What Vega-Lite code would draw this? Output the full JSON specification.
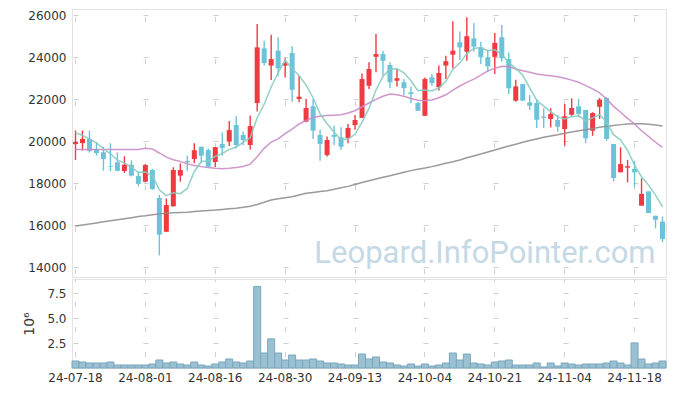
{
  "$schema": "https://vega.github.io/schema/vega-lite/v6.json",
  "padding": {"left": 22, "top": 8, "right": 10, "bottom": 5},
  "spacing": 0,
  "background": "white",
  "config": {
    "view": {"stroke": "#e3e3e3"},
    "font": "DejaVu Sans",
    "axis": {"labelFont": "DejaVu Sans", "labelFontSize": 12, "labelColor": "#333333", "ticks": false, "tickSize": 0, "domain": false, "gridColor": "#cfcfcf", "gridWidth": 1, "titleFont": "DejaVu Sans", "titleColor": "#333333"}
  },
  "datasets": {
    "k": [
      {"d":"24-07-18","o":19850,"h":20500,"l":19100,"c":19950,"v":700000,"m5":20400,"m20":19590,"m120":15950},
      {"d":"24-07-19","o":19900,"h":20500,"l":19550,"c":20100,"v":600000,"m5":20260,"m20":19590,"m120":16000},
      {"d":"24-07-22","o":20100,"h":20500,"l":19450,"c":19520,"v":500000,"m5":20100,"m20":19590,"m120":16050},
      {"d":"24-07-23","o":19620,"h":19940,"l":19300,"c":19430,"v":500000,"m5":19910,"m20":19590,"m120":16100},
      {"d":"24-07-24","o":19460,"h":19730,"l":18590,"c":19140,"v":500000,"m5":19630,"m20":19590,"m120":16150},
      {"d":"24-07-25","o":18810,"h":19890,"l":18560,"c":18780,"v":600000,"m5":19390,"m20":19590,"m120":16200},
      {"d":"24-07-26","o":18990,"h":19460,"l":18560,"c":18580,"v":300000,"m5":19090,"m20":19590,"m120":16250},
      {"d":"24-07-29","o":18570,"h":19270,"l":18480,"c":18870,"v":300000,"m5":18960,"m20":19590,"m120":16300},
      {"d":"24-07-30","o":18870,"h":19080,"l":18310,"c":18350,"v":300000,"m5":18740,"m20":19590,"m120":16350},
      {"d":"24-07-31","o":18330,"h":18540,"l":17840,"c":17960,"v":300000,"m5":18510,"m20":19600,"m120":16400},
      {"d":"24-08-01","o":18060,"h":18900,"l":18030,"c":18860,"v":300000,"m5":18520,"m20":19650,"m120":16440},
      {"d":"24-08-02","o":18620,"h":18670,"l":17680,"c":17710,"v":400000,"m5":18350,"m20":19620,"m120":16490},
      {"d":"24-08-05","o":17290,"h":17440,"l":14550,"c":15540,"v":800000,"m5":17680,"m20":19430,"m120":16530},
      {"d":"24-08-06","o":15680,"h":17260,"l":15660,"c":16950,"v":500000,"m5":17400,"m20":19230,"m120":16560},
      {"d":"24-08-07","o":16890,"h":18750,"l":16880,"c":18620,"v":600000,"m5":17540,"m20":19110,"m120":16580},
      {"d":"24-08-08","o":18350,"h":18940,"l":18060,"c":18620,"v":400000,"m5":17490,"m20":19030,"m120":16600},
      {"d":"24-08-09","o":19050,"h":19300,"l":18580,"c":18980,"v":300000,"m5":17740,"m20":18910,"m120":16610},
      {"d":"24-08-12","o":19140,"h":19890,"l":18940,"c":19560,"v":600000,"m5":18550,"m20":18830,"m120":16640},
      {"d":"24-08-13","o":19730,"h":19730,"l":18940,"c":19300,"v":300000,"m5":19020,"m20":18780,"m120":16670},
      {"d":"24-08-14","o":19570,"h":19640,"l":18740,"c":18780,"v":200000,"m5":19050,"m20":18740,"m120":16690},
      {"d":"24-08-16","o":19000,"h":19720,"l":18760,"c":19710,"v":400000,"m5":19270,"m20":18700,"m120":16710},
      {"d":"24-08-19","o":19860,"h":20410,"l":19300,"c":19670,"v":600000,"m5":19400,"m20":18680,"m120":16740},
      {"d":"24-08-20","o":19970,"h":20950,"l":19760,"c":20520,"v":900000,"m5":19600,"m20":18700,"m120":16770},
      {"d":"24-08-21","o":20760,"h":21180,"l":19650,"c":19810,"v":600000,"m5":19700,"m20":18740,"m120":16800},
      {"d":"24-08-22","o":20290,"h":20450,"l":19800,"c":20050,"v":500000,"m5":19950,"m20":18790,"m120":16840},
      {"d":"24-08-23","o":19810,"h":21220,"l":19600,"c":20710,"v":700000,"m5":20150,"m20":18900,"m120":16890},
      {"d":"24-08-26","o":21810,"h":25570,"l":21400,"c":24460,"v":8160000,"m5":21110,"m20":19250,"m120":16980},
      {"d":"24-08-27","o":24410,"h":24780,"l":23590,"c":23710,"v":1500000,"m5":21750,"m20":19650,"m120":17080},
      {"d":"24-08-28","o":23590,"h":25060,"l":22900,"c":23900,"v":2910000,"m5":22570,"m20":19950,"m120":17190},
      {"d":"24-08-29","o":24300,"h":24940,"l":23080,"c":23460,"v":1500000,"m5":23250,"m20":20100,"m120":17250},
      {"d":"24-08-30","o":23590,"h":23940,"l":23030,"c":23700,"v":800000,"m5":23850,"m20":20350,"m120":17300},
      {"d":"24-09-02","o":24190,"h":24510,"l":21870,"c":22440,"v":1300000,"m5":23440,"m20":20570,"m120":17350},
      {"d":"24-09-03","o":22000,"h":23110,"l":21840,"c":22110,"v":800000,"m5":23120,"m20":20810,"m120":17430},
      {"d":"24-09-04","o":20920,"h":22000,"l":20890,"c":21570,"v":800000,"m5":22660,"m20":20970,"m120":17510},
      {"d":"24-09-05","o":21650,"h":22000,"l":20100,"c":20490,"v":900000,"m5":22060,"m20":21130,"m120":17550},
      {"d":"24-09-06","o":20290,"h":20540,"l":19060,"c":19860,"v":700000,"m5":21290,"m20":21180,"m120":17590},
      {"d":"24-09-09","o":19330,"h":20220,"l":19260,"c":20050,"v":500000,"m5":20820,"m20":21210,"m120":17630},
      {"d":"24-09-10","o":20290,"h":20730,"l":19810,"c":20200,"v":500000,"m5":20430,"m20":21230,"m120":17700},
      {"d":"24-09-11","o":20180,"h":20650,"l":19570,"c":19730,"v":400000,"m5":20070,"m20":21250,"m120":17770},
      {"d":"24-09-12","o":20140,"h":20810,"l":19890,"c":20620,"v":300000,"m5":20090,"m20":21330,"m120":17840},
      {"d":"24-09-13","o":20760,"h":21240,"l":20540,"c":21000,"v":300000,"m5":20320,"m20":21440,"m120":17930},
      {"d":"24-09-19","o":21100,"h":23220,"l":21090,"c":22950,"v":1400000,"m5":20900,"m20":21630,"m120":18020},
      {"d":"24-09-20","o":22630,"h":23750,"l":22480,"c":23430,"v":900000,"m5":21550,"m20":21810,"m120":18110},
      {"d":"24-09-23","o":24010,"h":25100,"l":23270,"c":24140,"v":1100000,"m5":22430,"m20":21980,"m120":18190},
      {"d":"24-09-24","o":24140,"h":24300,"l":23110,"c":23820,"v":600000,"m5":23070,"m20":22130,"m120":18270},
      {"d":"24-09-25","o":23620,"h":23750,"l":22510,"c":22800,"v":500000,"m5":23430,"m20":22240,"m120":18350},
      {"d":"24-09-26","o":22870,"h":23430,"l":22600,"c":22990,"v":300000,"m5":23440,"m20":22200,"m120":18430},
      {"d":"24-09-27","o":22800,"h":22950,"l":22190,"c":22520,"v":200000,"m5":23250,"m20":22130,"m120":18510},
      {"d":"24-09-30","o":22320,"h":22600,"l":21800,"c":22240,"v":400000,"m5":22870,"m20":22020,"m120":18590},
      {"d":"24-10-02","o":21810,"h":21860,"l":21440,"c":21440,"v":200000,"m5":22400,"m20":21940,"m120":18650},
      {"d":"24-10-04","o":21200,"h":23030,"l":21200,"c":22950,"v":400000,"m5":22430,"m20":21920,"m120":18710},
      {"d":"24-10-07","o":23030,"h":23190,"l":22630,"c":22760,"v":200000,"m5":22380,"m20":21950,"m120":18780},
      {"d":"24-10-08","o":22560,"h":23590,"l":22400,"c":23240,"v":300000,"m5":22530,"m20":22060,"m120":18860},
      {"d":"24-10-10","o":23590,"h":24060,"l":22950,"c":23800,"v":500000,"m5":22840,"m20":22200,"m120":18940},
      {"d":"24-10-11","o":24110,"h":25700,"l":23460,"c":24300,"v":1500000,"m5":23410,"m20":22420,"m120":19010},
      {"d":"24-10-14","o":24700,"h":25220,"l":23860,"c":24460,"v":800000,"m5":23710,"m20":22620,"m120":19100},
      {"d":"24-10-15","o":24250,"h":25890,"l":23820,"c":24990,"v":1400000,"m5":24160,"m20":22790,"m120":19200},
      {"d":"24-10-16","o":24890,"h":25620,"l":24250,"c":24490,"v":500000,"m5":24410,"m20":22950,"m120":19290},
      {"d":"24-10-17","o":24460,"h":24730,"l":23670,"c":23990,"v":400000,"m5":24450,"m20":23140,"m120":19380},
      {"d":"24-10-18","o":23990,"h":24350,"l":23270,"c":23560,"v":300000,"m5":24300,"m20":23340,"m120":19480},
      {"d":"24-10-21","o":24010,"h":25140,"l":23190,"c":24670,"v":600000,"m5":24340,"m20":23460,"m120":19570},
      {"d":"24-10-22","o":24940,"h":25520,"l":23780,"c":23940,"v":700000,"m5":24130,"m20":23560,"m120":19670},
      {"d":"24-10-23","o":23900,"h":24220,"l":22240,"c":22510,"v":800000,"m5":23730,"m20":23550,"m120":19760},
      {"d":"24-10-24","o":21920,"h":22920,"l":21870,"c":22600,"v":300000,"m5":23460,"m20":23430,"m120":19850},
      {"d":"24-10-25","o":22710,"h":22710,"l":21920,"c":21920,"v":300000,"m5":23130,"m20":23350,"m120":19940},
      {"d":"24-10-28","o":21840,"h":22190,"l":21480,"c":21680,"v":300000,"m5":22530,"m20":23270,"m120":20020},
      {"d":"24-10-29","o":21810,"h":22000,"l":20620,"c":21010,"v":500000,"m5":21940,"m20":23190,"m120":20100},
      {"d":"24-10-30","o":21160,"h":21560,"l":20620,"c":21100,"v":100000,"m5":21660,"m20":23140,"m120":20180},
      {"d":"24-10-31","o":21050,"h":21560,"l":20650,"c":21290,"v":500000,"m5":21400,"m20":23110,"m120":20240},
      {"d":"24-11-01","o":21000,"h":21240,"l":20440,"c":20680,"v":200000,"m5":21150,"m20":23060,"m120":20300},
      {"d":"24-11-04","o":20570,"h":21760,"l":19780,"c":21180,"v":500000,"m5":21050,"m20":22990,"m120":20370},
      {"d":"24-11-05","o":21250,"h":22030,"l":21200,"c":21570,"v":400000,"m5":21160,"m20":22900,"m120":20430},
      {"d":"24-11-06","o":21650,"h":22000,"l":21130,"c":21290,"v":300000,"m5":21200,"m20":22800,"m120":20490},
      {"d":"24-11-07","o":21480,"h":21480,"l":19900,"c":20130,"v":400000,"m5":20970,"m20":22640,"m120":20540},
      {"d":"24-11-08","o":20490,"h":21370,"l":20250,"c":21330,"v":400000,"m5":21100,"m20":22480,"m120":20590},
      {"d":"24-11-11","o":21630,"h":22050,"l":21050,"c":21970,"v":400000,"m5":21260,"m20":22290,"m120":20650},
      {"d":"24-11-12","o":22050,"h":22080,"l":20010,"c":20100,"v":500000,"m5":20900,"m20":22000,"m120":20700},
      {"d":"24-11-13","o":19860,"h":19860,"l":18080,"c":18240,"v":700000,"m5":20300,"m20":21650,"m120":20740},
      {"d":"24-11-14","o":18510,"h":19700,"l":18510,"c":18900,"v":500000,"m5":20050,"m20":21370,"m120":20780},
      {"d":"24-11-15","o":18730,"h":19100,"l":18030,"c":18800,"v":300000,"m5":19550,"m20":21080,"m120":20810},
      {"d":"24-11-18","o":18670,"h":19060,"l":17800,"c":18510,"v":2510000,"m5":18850,"m20":20810,"m120":20820},
      {"d":"24-11-19","o":16920,"h":18220,"l":16920,"c":17480,"v":900000,"m5":18300,"m20":20490,"m120":20825},
      {"d":"24-11-20","o":17600,"h":17600,"l":16570,"c":16570,"v":400000,"m5":17900,"m20":20220,"m120":20800},
      {"d":"24-11-21","o":16440,"h":16440,"l":15840,"c":16250,"v":500000,"m5":17420,"m20":19940,"m120":20760},
      {"d":"24-11-22","o":16160,"h":16400,"l":15180,"c":15330,"v":700000,"m5":16870,"m20":19700,"m120":20710}
    ]
  },
  "vconcat": [
    {
      "width": 594,
      "height": 268,
      "data": {"name": "k"},
      "encoding": {
        "x": {
          "field": "d", "type": "ordinal", "sort": null,
          "scale": {"paddingInner": 0, "paddingOuter": 0},
          "axis": {"labels": false, "title": null, "grid": true, "gridDash": [5, 37], "gridDashOffset": 34.5,
            "values": ["24-07-18","24-08-01","24-08-16","24-08-30","24-09-13","24-10-04","24-10-21","24-11-04","24-11-18"]}
        }
      },
      "layer": [
        {
          "mark": {"type": "text", "font": "Roboto", "fontSize": 31, "align": "right", "baseline": "alphabetic", "dx": -7, "color": "#c5d9e5"},
          "encoding": {
            "text": {"condition": {"test": "datum.d == '24-11-22'", "value": "Leopard.InfoPointer.com"}, "value": ""},
            "y": {"datum": 14190, "type": "quantitative", "scale": {"domain": [13524, 26286], "nice": false, "zero": false},
              "axis": {"title": null, "values": [14000,16000,18000,20000,22000,24000,26000], "format": "d", "labelPadding": 6, "grid": true, "gridDash": [5, 65], "gridDashOffset": 69}}
          }
        },
        {
          "mark": {"type": "rule", "strokeWidth": 1.4},
          "encoding": {
            "y": {"field": "l", "type": "quantitative"},
            "y2": {"field": "h"},
            "color": {"condition": {"test": "datum.c >= datum.o", "value": "#ee3a40"}, "value": "#6cc2d9"}
          }
        },
        {
          "mark": {"type": "bar", "width": 5},
          "encoding": {
            "y": {"field": "o", "type": "quantitative"},
            "y2": {"field": "c"},
            "color": {"condition": {"test": "datum.c >= datum.o", "value": "#ee3a40"}, "value": "#6cc2d9"}
          }
        },
        {
          "mark": {"type": "line", "color": "#8f8f8f", "strokeWidth": 1.5, "opacity": 0.9},
          "encoding": {"y": {"field": "m120", "type": "quantitative"}}
        },
        {
          "mark": {"type": "line", "color": "#c98bc6", "strokeWidth": 1.5, "opacity": 0.9},
          "encoding": {"y": {"field": "m20", "type": "quantitative"}}
        },
        {
          "mark": {"type": "line", "color": "#86cbc1", "strokeWidth": 1.5, "opacity": 0.9},
          "encoding": {"y": {"field": "m5", "type": "quantitative"}}
        }
      ]
    },
    {
      "width": 594,
      "height": 89,
      "data": {"name": "k"},
      "mark": {"type": "bar", "fill": "#9bc0d2", "stroke": "#78a7be", "strokeWidth": 1},
      "encoding": {
        "x": {
          "field": "d", "type": "ordinal", "sort": null,
          "scale": {"paddingInner": 0, "paddingOuter": 0},
          "axis": {"title": null, "labelAngle": 0, "labelPadding": 4, "grid": true, "gridDash": [5, 20], "gridDashOffset": 2.5,
            "values": ["24-07-18","24-08-01","24-08-16","24-08-30","24-09-13","24-10-04","24-10-21","24-11-04","24-11-18"]}
        },
        "y": {
          "field": "v", "type": "quantitative",
          "scale": {"domain": [0, 8900000], "nice": false},
          "axis": {"values": [2500000, 5000000, 7500000], "labelExpr": "format(datum.value / 1000000, '.1f')", "labelPadding": 6,
            "title": "10⁶", "titleFontSize": 14, "titleFontWeight": "normal", "titlePadding": 10,
            "grid": true, "gridDash": [5, 65], "gridDashOffset": 69}
        }
      }
    }
  ]
}
